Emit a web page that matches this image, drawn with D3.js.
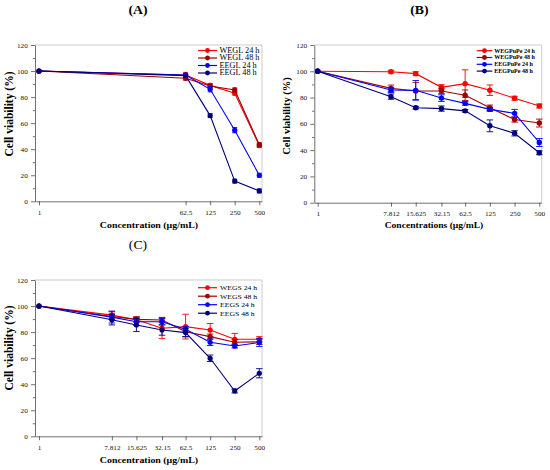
<!DOCTYPE html>
<html><head><meta charset="utf-8">
<script src="https://cdn.jsdelivr.net/npm/d3@7"></script>
<style>body{margin:0;background:#fff}svg{display:block}</style>
</head><body>
<svg id="c" width="550" height="470"></svg>
<script>
// ---------------- DATA ----------------
const concA = [1, 62.5, 125, 250, 500];
const labelsA = ["1", "62.5", "125", "250", "500"];
const concBC = [1, 7.812, 15.625, 32.15, 62.5, 125, 250, 500];
const labelsBC = ["1", "7.812", "15.625", "32.15", "62.5", "125", "250", "500"];
const yTicks = [0, 20, 40, 60, 80, 100, 120];
const yMinor = [10, 30, 50, 70, 90, 110];

const namesA = ["WEGL 24 h", "WEGL 48 h", "EEGL 24 h", "EEGL 48 h"];
const WEGL24 = [100, 97, 89, 83, 42.8];
const WEGL24err = [0, 2, 1.5, 1.5, 1.5];
const WEGL48 = [100, 94.5, 88.5, 85.5, 43.5];
const WEGL48err = [0, 1.5, 1.5, 1.5, 1.5];
const EEGL24 = [100, 97, 86, 54.6, 20];
const EEGL24err = [0, 1, 2, 2, 1.5];
const EEGL48 = [100, 96.5, 65.8, 15.5, 8];
const EEGL48err = [0, 1, 1.5, 1.5, 1.5];

const namesB = ["WEGPuPe 24 h", "WEGPuPe 48 h", "EEGPuPe 24 h", "EEGPuPe 48 h"];
const WEGPuPe24 = [100, 99.7, 98.2, 87.8, 90.6, 85.6, 79.5, 73.6];
const WEGPuPe24err = [0, 1, 1.5, 2, 10.5, 4, 1.5, 1.5];
const WEGPuPe48 = [100, 87, 85, 85, 81.8, 72.3, 63.3, 60.6];
const WEGPuPe48err = [0, 2.5, 6.5, 2, 4, 2, 2, 3];
const EEGPuPe24 = [100, 85.8, 85.5, 79.6, 75.6, 71, 68, 45.8];
const EEGPuPe24err = [0, 2, 7.5, 2.5, 1.5, 1.5, 3, 3];
const EEGPuPe48 = [100, 80.7, 72.3, 71.6, 69.9, 58.5, 52.8, 38];
const EEGPuPe48err = [0, 2, 1, 2, 1, 4.5, 2, 1.5];

const namesC = ["WEGS 24 h", "WEGS 48 h", "EEGS 24 h", "EEGS 48 h"];
const WEGS24 = [100, 93, 89.5, 83, 84.2, 81.6, 74.5, 74.5];
const WEGS24err = [0, 3, 2, 8, 9.5, 5, 4.5, 2];
const WEGS48 = [100, 92, 89.8, 89.3, 80.3, 76.5, 72.2, 72.5];
const WEGS48err = [0, 2.5, 2, 2, 4, 2, 2, 2];
const EEGS24 = [100, 91.5, 88, 88, 82.1, 72.2, 69.3, 72];
const EEGS24err = [0, 4.5, 3, 2.5, 2, 2.5, 1.5, 3];
const EEGS48 = [100, 89.5, 85.5, 81.6, 79.6, 59.9, 34.8, 48.4];
const EEGS48err = [0, 4, 5, 4, 3, 2.5, 1.5, 3.5];

const colors = ["#ff0000", "#a00000", "#0000ff", "#00007a"];

// ---------------- DRAW ----------------
const FONT = "'Liberation Serif','Times New Roman',serif";
const SX = 1.1;
const svg = d3.select("#c");

function sText(x, y, str, size, weight, anchor, rot) {
  const t = svg.append("text")
    .attr("transform", rot ? `translate(${x},${y}) rotate(-90)` : `translate(${x},${y}) scale(${SX},1)`)
    .attr("text-anchor", anchor || "middle")
    .attr("font-family", FONT).attr("font-size", size)
    .attr("font-weight", weight || "normal").attr("fill", "#000")
    .text(str);
  return t;
}

function panel(p) {
  const base = d3.scaleLog().base(2).domain([1, 500]).range([p.xFirst, p.xLast]);
  const x = d3.scaleLog().base(2).domain([base.invert(p.x0), base.invert(p.xEnd)]).range([p.x0, p.xEnd]);
  const y = d3.scaleLinear().domain([0, 120]).range([p.bottom, p.top]);
  const g = svg.append("g");

  // frame (top and right)
  g.append("path").attr("d", `M${p.x0},${p.top}H${p.xEnd}V${p.bottom}`)
    .attr("fill", "none").attr("stroke", "#b8b8b8").attr("stroke-width", 0.7);

  // y axis
  const ya = g.append("g").attr("transform", `translate(${p.x0},0)`)
    .call(d3.axisLeft(y).tickValues(yTicks).tickSize(4).tickSizeOuter(0).tickPadding(2.5));
  const ym = g.append("g").attr("transform", `translate(${p.x0},0)`)
    .call(d3.axisLeft(y).tickValues(yMinor).tickSize(2.2).tickSizeOuter(0).tickFormat(""));
  ym.select(".domain").remove();
  // x axis
  const xa = g.append("g").attr("transform", `translate(0,${p.bottom})`)
    .call(d3.axisBottom(x).tickValues(p.conc).tickFormat((d, i) => p.labels[i])
      .tickSize(4).tickSizeOuter(0).tickPadding(5));
  [ya, ym, xa].forEach(a => {
    a.selectAll("path,line").attr("stroke", "#333").attr("stroke-width", 0.7);
    a.selectAll("text").attr("font-family", FONT).attr("font-size", 6.6).attr("fill", "#111")
      .attr("transform", `scale(${SX},1)`);
  });
  xa.selectAll("text").attr("x", 0);

  // series
  const line = d3.line().x((d, i) => x(p.conc[i])).y(d => y(d));
  p.series.forEach((s, k) => {
    const c = colors[k];
    g.append("path").datum(s.v).attr("d", line)
      .attr("fill", "none").attr("stroke", c).attr("stroke-width", 1.1);
    const eb = g.append("g").attr("stroke", c).attr("stroke-width", 0.9);
    s.v.forEach((v, i) => {
      const e = s.e[i];
      if (!e) return;
      const cx = x(p.conc[i]);
      eb.append("line").attr("x1", cx).attr("x2", cx).attr("y1", y(v - e)).attr("y2", y(v + e));
      [v - e, v + e].forEach(w => eb.append("line")
        .attr("x1", cx - p.cap / 2).attr("x2", cx + p.cap / 2).attr("y1", y(w)).attr("y2", y(w)));
    });
    g.append("g").selectAll("circle").data(s.v).join("circle")
      .attr("cx", (d, i) => x(p.conc[i])).attr("cy", d => y(d)).attr("r", p.r).attr("fill", c);
  });

  // legend
  const L = p.legend;
  p.names.forEach((n, k) => {
    const yy = L.y + k * L.dy;
    svg.append("line").attr("x1", L.x1).attr("x2", L.x2).attr("y1", yy).attr("y2", yy)
      .attr("stroke", colors[k]).attr("stroke-width", 1.2);
    svg.append("circle").attr("cx", (L.x1 + L.x2) / 2).attr("cy", yy).attr("r", L.r).attr("fill", colors[k]);
    sText(L.tx, yy + L.size * 0.33, n, L.size, L.weight, "start");
  });

  // titles and labels
  sText(p.title.x, p.title.y, p.title.t, 12.5, p.title.w, "middle");
  sText(p.xl.x, p.xl.y, p.xl.t, p.xl.size, "bold", "middle");
  sText(p.yl.x, p.yl.y, "Cell viability (%)", p.yl.size, "bold", "middle", true);
}

panel({
  x0: 35, xFirst: 39, xLast: 259.3, xEnd: 262, top: 45, bottom: 201.3,
  conc: concA, labels: labelsA, cap: 5, r: 2.6, names: namesA,
  series: [{v: WEGL24, e: WEGL24err}, {v: WEGL48, e: WEGL48err}, {v: EEGL24, e: EEGL24err}, {v: EEGL48, e: EEGL48err}],
  legend: {x1: 198, x2: 217, y: 50.5, dy: 7.5, tx: 219.5, size: 7.5, weight: "normal", r: 2.4},
  title: {x: 138, y: 14, t: "(A)", w: "bold"},
  xl: {x: 149, y: 227.7, t: "Concentration (µg/mL)", size: 9},
  yl: {x: 12.5, y: 114, size: 11.5}
});

panel({
  x0: 314.3, xFirst: 317.7, xLast: 539.3, xEnd: 541.7, top: 45, bottom: 202.7,
  conc: concBC, labels: labelsBC, cap: 6.5, r: 2.7, names: namesB,
  series: [{v: WEGPuPe24, e: WEGPuPe24err}, {v: WEGPuPe48, e: WEGPuPe48err}, {v: EEGPuPe24, e: EEGPuPe24err}, {v: EEGPuPe48, e: EEGPuPe48err}],
  legend: {x1: 476.7, x2: 492.3, y: 50.7, dy: 6.8, tx: 494.3, size: 5.5, weight: "bold", r: 2.4},
  title: {x: 419.3, y: 14, t: "(B)", w: "bold"},
  xl: {x: 434, y: 227.7, t: "Concentrations (µg/mL)", size: 8.7},
  yl: {x: 290, y: 116, size: 10.5}
});

panel({
  x0: 35, xFirst: 39, xLast: 259.3, xEnd: 262, top: 280, bottom: 436.3,
  conc: concBC, labels: labelsBC, cap: 6.5, r: 2.6, names: namesC,
  series: [{v: WEGS24, e: WEGS24err}, {v: WEGS48, e: WEGS48err}, {v: EEGS24, e: EEGS24err}, {v: EEGS48, e: EEGS48err}],
  legend: {x1: 198, x2: 217, y: 287.7, dy: 8.5, tx: 220, size: 7, weight: "normal", r: 2.4},
  title: {x: 138, y: 248.5, t: "(C)", w: "normal"},
  xl: {x: 149, y: 462.7, t: "Concentration (µg/mL)", size: 9},
  yl: {x: 12.5, y: 348, size: 11.5}
});
</script>
</body></html>
